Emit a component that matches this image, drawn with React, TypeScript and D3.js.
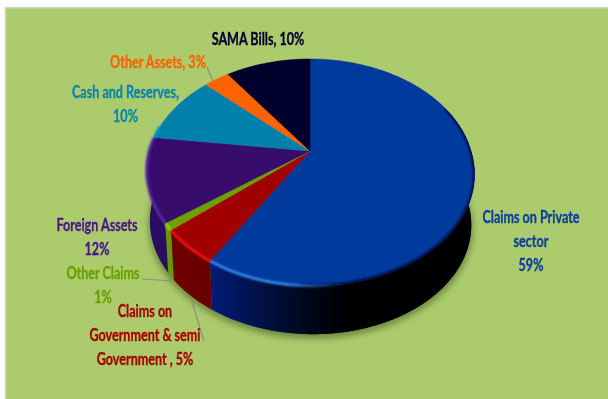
import React from "react";
import * as d3 from "d3";

const categories = [
  "Claims on Private sector",
  "Claims on Government & semi Government",
  "Other Claims",
  "Foreign Assets",
  "Cash and Reserves",
  "Other Assets",
  "SAMA Bills",
];
const shares = [59, 5, 1, 12, 10, 3, 10];
const topColors = ["#003a9c", "#a00000", "#6f9f00", "#380c6c", "#0080ab", "#ff6200", "#00002c"];
const rimColors = ["#3a90f0", "#ff1414", "#98d810", "#5f2cb0", "#0099cc", "#ff7a20", "#101040"];
const sideColors = ["#001c78", "#700000", "#6a9a00", "#2a0c64", "#006080", "#c04a00", "#00001c"];

const labelLines = [
  { lines: ["SAMA Bills, 10%"], x: 258, y: 45, fill: "#00002c" },
  { lines: ["Other Assets, 3%"], x: 158, y: 68, fill: "#ff6200" },
  { lines: ["Cash and Reserves,", "10%"], x: 125.5, y: 98, fill: "#0a84ab" },
  { lines: ["Foreign Assets", "12%"], x: 97, y: 231, fill: "#45178a" },
  { lines: ["Other Claims", "1%"], x: 103, y: 279, fill: "#6a9f00" },
  { lines: ["Claims on", "Government & semi", "Government , 5%"], x: 145, y: 317, fill: "#a80000" },
  { lines: ["Claims on Private", "sector", "59%"], x: 531, y: 223, fill: "#0a3f9e" },
];
const leaders: [number, number, number, number][] = [
  [207, 67, 213, 81],
  [142, 279, 172, 281],
  [192, 302, 204, 341],
];

// Perspective projection of a unit disc lying flat, seen from the front and above,
// with the near half leaning slightly to the right.
const cx = 310, cy = 151, a = 161, b = 109.4, k = 0.189, depth = 51, lean = 3;
const project = (ang: number, r = 1, drop = 0): [number, number] => {
  const u = r * Math.sin(ang), v = -r * Math.cos(ang);
  const w = 1 - k * v;
  const s = 1 - (drop / depth) * 0.02;
  return [cx + (s * a * u) / w + lean * Math.max(0, v), cy + (s * b * v) / w + drop];
};
const line = d3.line();
const sweep = (from: number, to: number, r = 1, drop = 0) => {
  const n = Math.max(2, Math.ceil(Math.abs(to - from) * 60));
  return d3.range(n + 1).map((i) => project(from + ((to - from) * i) / n, r, drop));
};

const slices = d3.pie<number>().sort(null)(shares);
const wallFrom = 1.35, wallTo = 4.95;
const discPath = line(sweep(0, Math.PI * 2))! + "Z";

export default function App() {
  return (
    <svg width={608} height={399} style={{ position: "absolute", left: 0, top: 0 }}>
      <defs>
        <filter id="soft" x="-30%" y="-30%" width="160%" height="160%">
          <feGaussianBlur stdDeviation="3" />
        </filter>
        <filter id="bevel" x="-10%" y="-10%" width="120%" height="120%">
          <feGaussianBlur stdDeviation="1" />
        </filter>
        <filter id="txt"><feGaussianBlur stdDeviation="0.3" /></filter>
        <linearGradient id="sideShade" gradientUnits="userSpaceOnUse" x1="150" x2="470" y1="0" y2="0">
          <stop offset="0" stopColor="#000" stopOpacity="0" />
          <stop offset="0.2" stopColor="#000" stopOpacity="0.05" />
          <stop offset="0.5" stopColor="#000" stopOpacity="0.8" />
          <stop offset="0.62" stopColor="#000" stopOpacity="1" />
          <stop offset="1" stopColor="#000" stopOpacity="1" />
        </linearGradient>
        <linearGradient id="rimFade" gradientUnits="userSpaceOnUse" x1="150" x2="470" y1="0" y2="0">
          <stop offset="0" stopColor="#fff" stopOpacity="1" />
          <stop offset="0.42" stopColor="#fff" stopOpacity="1" />
          <stop offset="0.6" stopColor="#fff" stopOpacity="0" />
        </linearGradient>
        <mask id="rimMask" maskUnits="userSpaceOnUse" x="0" y="0" width="608" height="399">
          <rect width="608" height="399" fill="url(#rimFade)" />
        </mask>
        <clipPath id="disc"><path d={discPath} /></clipPath>
      </defs>
      <rect x={5} y={8} width={603} height={391} fill="#accb6c" />
      <rect x={5} y={7} width={603} height={1.5} fill="#cfcfcf" />
      <rect x={4.5} y={7} width={1.5} height={392} fill="#d8d8d8" />

      {/* ground shadow */}
      <path
        d={line(sweep(wallFrom, wallTo, 1.01, depth + 3))! + "Z"}
        fill="#5e7a34"
        opacity={0.8}
        filter="url(#soft)"
      />

      {/* side wall */}
      {slices.map((s, i) => {
        const from = Math.max(s.startAngle, wallFrom);
        const to = Math.min(s.endAngle, wallTo);
        if (to <= from) return null;
        const d = [...sweep(from, to), ...sweep(to, from, 1, depth)];
        return <path key={categories[i]} d={line(d)! + "Z"} fill={sideColors[i]} />;
      })}
      <path
        d={line([...sweep(wallFrom, wallTo), ...sweep(wallTo, wallFrom, 1, depth)])! + "Z"}
        fill="url(#sideShade)"
      />

      {/* top face */}
      {slices.map((s, i) => {
        const d = [[cx, cy] as [number, number], ...sweep(s.startAngle, s.endAngle)];
        return <path key={categories[i]} d={line(d)! + "Z"} fill={topColors[i]} stroke={topColors[i]} strokeWidth={0.5} />;
      })}

      {/* dark lip on the right of the disc, bright lip along the near left */}
      <g clipPath="url(#disc)">
        <path d={line(sweep(1.15, 3.2, 1))!} fill="none" stroke="#000030" strokeWidth={3.5} filter="url(#bevel)" opacity={0.85} />
      </g>
      <g mask="url(#rimMask)">
        {slices.map((s, i) => {
          const from = Math.max(s.startAngle, Math.PI / 2);
          const to = Math.min(s.endAngle, wallTo);
          if (to <= from) return null;
          return (
            <path key={categories[i]} d={line(sweep(from, to))!} fill="none" stroke={rimColors[i]} strokeWidth={2.6} filter="url(#bevel)" />
          );
        })}
      </g>

      {leaders.map(([x1, y1, x2, y2], i) => (
        <line key={i} x1={x1} y1={y1} x2={x2} y2={y2} stroke="#8a8f8a" strokeWidth={1.2} />
      ))}

      <g filter="url(#txt)" fontFamily="Lato, 'Open Sans', sans-serif" fontWeight={700} fontSize={17} textAnchor="middle">
        {labelLines.map((l) => (
          <text key={l.lines[0] + l.x} fill={l.fill} stroke={l.fill} strokeWidth={0.35} transform={`translate(${l.x},${l.y}) scale(0.74,1)`}>
            {l.lines.map((t, j) => (
              <tspan key={j} x={0} y={j * 24.2}>{t}</tspan>
            ))}
          </text>
        ))}
      </g>
    </svg>
  );
}
